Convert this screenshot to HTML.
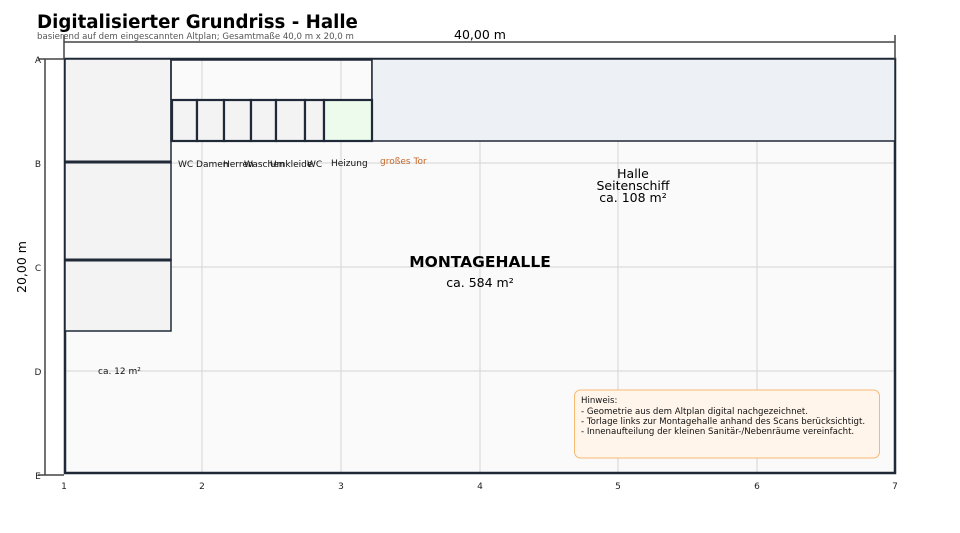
<!DOCTYPE html>
<html><head><meta charset="utf-8"><style>
html,body{margin:0;padding:0;background:#fff}
svg{display:block;font-family:"DejaVu Sans","Liberation Sans",sans-serif}
</style></head><body>
<svg width="960" height="533" viewBox="0 0 960 533" xmlns="http://www.w3.org/2000/svg">
<rect width="960" height="533" fill="#fff"/>
<text x="37" y="28" font-size="18.2" font-weight="bold" fill="#000">Digitalisierter Grundriss - Halle</text>
<text x="37" y="39" font-size="8.6" fill="#555">basierend auf dem eingescannten Altplan; Gesamtmaße 40,0 m x 20,0 m</text>
<rect x="64" y="59" width="831" height="415" fill="#fafafa"/>
<g stroke="#d4d4d4" stroke-width="1">
<line x1="202" y1="59" x2="202" y2="474"/><line x1="341" y1="59" x2="341" y2="474"/>
<line x1="480" y1="59" x2="480" y2="474"/><line x1="618" y1="59" x2="618" y2="474"/>
<line x1="757" y1="59" x2="757" y2="474"/>
<line x1="64" y1="163" x2="895" y2="163"/><line x1="64" y1="267" x2="895" y2="267"/><line x1="64" y1="371" x2="895" y2="371"/>
</g>
<rect x="65" y="59" width="830" height="414" fill="none" stroke="#1f2937" stroke-width="2.5"/>
<g stroke="#1f2937" stroke-width="1.5" fill="#f3f3f3">
<rect x="65" y="59" width="106" height="103"/>
<rect x="65" y="162" width="106" height="98"/>
<rect x="65" y="260" width="106" height="71"/>
</g>
<line x1="65" y1="162" x2="171" y2="162" stroke="#1f2937" stroke-width="3"/>
<line x1="65" y1="260" x2="171" y2="260" stroke="#1f2937" stroke-width="3"/>
<rect x="171" y="60" width="201" height="81" fill="none" stroke="#1f2937" stroke-width="1.5"/>
<rect x="372" y="59" width="523" height="82" fill="#edf0f5" stroke="#1f2937" stroke-width="1.5"/>
<g stroke="#1f2937" stroke-width="2.2" fill="#f3f3f3">
<rect x="172" y="100" width="25" height="41"/>
<rect x="197" y="100" width="27" height="41"/>
<rect x="224" y="100" width="27" height="41"/>
<rect x="251" y="100" width="25" height="41"/>
<rect x="276" y="100" width="29" height="41"/>
<rect x="305" y="100" width="19" height="41"/>
<rect x="324" y="100" width="48" height="41" fill="#ecfbec"/>
</g>
<g font-size="9" fill="#111">
<text x="178" y="167">WC Damen</text><text x="223" y="167">Herren</text><text x="244" y="167">Waschen</text>
<text x="270" y="167">Umkleide</text><text x="307" y="167">WC</text><text x="331" y="166">Heizung</text>
<text x="380" y="164" fill="#c8692a">großes Tor</text>
<text x="98" y="374">ca. 12 m²</text>
</g>
<g font-size="12.5" fill="#000" text-anchor="middle">
<text x="633" y="178">Halle</text><text x="633" y="190">Seitenschiff</text><text x="633" y="202">ca. 108 m²</text>
<text x="480" y="267" font-size="15.5" font-weight="bold">MONTAGEHALLE</text>
<text x="480" y="287">ca. 584 m²</text>
</g>
<rect x="574.5" y="390" width="305" height="68" rx="6" fill="#fff5eb" stroke="#f5b971" stroke-width="1"/>
<g font-size="8.6" fill="#111"><text x="581" y="403">Hinweis:</text><text x="581" y="414">- Geometrie aus dem Altplan digital nachgezeichnet.</text>
<text x="581" y="424">- Torlage links zur Montagehalle anhand des Scans berücksichtigt.</text>
<text x="581" y="434">- Innenaufteilung der kleinen Sanitär-/Nebenräume vereinfacht.</text></g>
<g stroke="#444" stroke-width="1.5" fill="none">
<line x1="64" y1="42" x2="895" y2="42"/><line x1="64" y1="35" x2="64" y2="59"/><line x1="895" y1="35" x2="895" y2="59"/>
<line x1="45" y1="59" x2="45" y2="475"/><line x1="38" y1="59" x2="64" y2="59"/><line x1="38" y1="475" x2="64" y2="475"/>
</g>
<text x="480" y="39" font-size="12.5" text-anchor="middle">40,00 m</text>
<text transform="translate(26,267) rotate(-90)" font-size="12.5" text-anchor="middle">20,00 m</text>
<g font-size="9" fill="#222" text-anchor="middle">
<text x="64" y="489">1</text><text x="202" y="489">2</text><text x="341" y="489">3</text><text x="480" y="489">4</text>
<text x="618" y="489">5</text><text x="757" y="489">6</text><text x="895" y="489">7</text>
<text x="38" y="63">A</text><text x="38" y="167">B</text><text x="38" y="271">C</text><text x="38" y="375">D</text><text x="38" y="479">E</text>
</g>
</svg>
</body></html>
